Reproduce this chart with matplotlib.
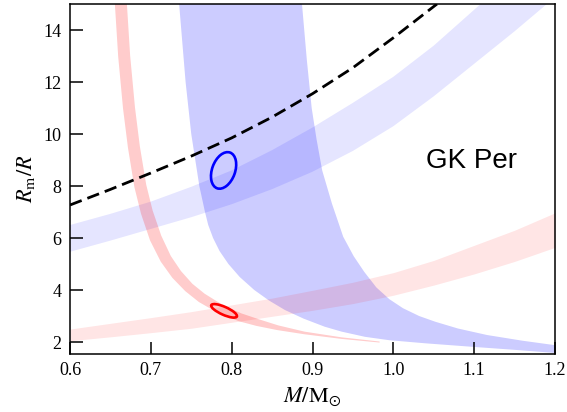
import matplotlib
matplotlib.use("Agg")
import matplotlib.pyplot as plt
from matplotlib.patches import Ellipse
from matplotlib.transforms import Affine2D

plt.rcParams['font.family'] = ['Liberation Serif', 'DejaVu Serif']
plt.rcParams['mathtext.fontset'] = 'stix'

# ---- data ----
# steep red band: lower-left edge and upper-right edge (top to bottom)
red_steep_lo_x = [0.6555, 0.6596, 0.6656, 0.6717, 0.6797, 0.6879, 0.6990, 0.7123, 0.7266, 0.7425, 0.7594, 0.7762, 0.7891, 0.8088, 0.8307, 0.8563, 0.8897, 0.9359, 0.983]
red_steep_lo_y = [15.0, 12.98, 10.98, 9.47, 7.95, 6.93, 5.91, 5.09, 4.47, 3.96, 3.54, 3.24, 3.05, 2.80, 2.62, 2.46, 2.30, 2.12, 1.98]
red_steep_hi_x = [0.6704, 0.6744, 0.6804, 0.6864, 0.6943, 0.7022, 0.7129, 0.7247, 0.7373, 0.7514, 0.7665, 0.7820, 0.7938, 0.8122, 0.8332, 0.8577, 0.8902, 0.9362, 0.983]
red_steep_hi_y = [15.0, 13.02, 11.02, 9.53, 8.05, 7.06, 6.09, 5.31, 4.73, 4.24, 3.86, 3.56, 3.35, 3.10, 2.88, 2.64, 2.40, 2.18, 2.02]

# shallow red band
red_shallow_x = [0.60, 0.65, 0.70, 0.75, 0.80, 0.85, 0.90, 0.95, 1.00, 1.05, 1.10, 1.15, 1.20]
red_shallow_lo = [2.05, 2.20, 2.36, 2.53, 2.76, 2.99, 3.22, 3.48, 3.80, 4.19, 4.62, 5.10, 5.64]
red_shallow_hi = [2.50, 2.72, 2.94, 3.17, 3.43, 3.69, 3.99, 4.30, 4.67, 5.14, 5.72, 6.30, 6.97]

# steep blue band
blue_steep_lo_x = [0.735, 0.743, 0.750, 0.755, 0.760, 0.767, 0.771, 0.777, 0.785, 0.796, 0.810, 0.828, 0.846, 0.866, 0.889, 0.915, 0.936, 0.965, 0.995, 1.040, 1.096, 1.150, 1.200]
blue_steep_lo_y = [15.0, 12.0, 10.0, 9.0, 8.0, 7.0, 6.5, 6.0, 5.5, 5.0, 4.5, 4.0, 3.6, 3.23, 2.9, 2.59, 2.4, 2.2, 2.07, 1.95, 1.82, 1.70, 1.58]
blue_steep_hi_x = [0.887, 0.893, 0.899, 0.905, 0.912, 0.924, 0.938, 0.951, 0.964, 0.979, 0.995, 1.012, 1.032, 1.052, 1.080, 1.116, 1.160, 1.200]
blue_steep_hi_y = [15.0, 12.85, 11.0, 9.8, 8.6, 7.33, 6.05, 5.3, 4.7, 4.1, 3.65, 3.3, 3.0, 2.78, 2.52, 2.27, 2.05, 1.88]

# shallow light-blue band
blue_shallow_lo_x = [0.60, 0.65, 0.70, 0.75, 0.80, 0.85, 0.90, 0.95, 1.00, 1.05, 1.10, 1.15, 1.19]
blue_shallow_lo_y = [5.47, 5.90, 6.35, 6.80, 7.30, 7.88, 8.55, 9.35, 10.3, 11.45, 12.7, 13.95, 15.0]
blue_shallow_hi_x = [0.60, 0.65, 0.70, 0.75, 0.80, 0.85, 0.90, 0.95, 1.00, 1.05, 1.108]
blue_shallow_hi_y = [6.50, 6.93, 7.40, 7.97, 8.60, 9.38, 10.25, 11.2, 12.2, 13.4, 15.0]

# dashed curve
dash_x = [0.60, 0.65, 0.70, 0.75, 0.80, 0.85, 0.90, 0.95, 1.00, 1.054]
dash_y = [7.27, 7.87, 8.50, 9.15, 9.85, 10.65, 11.55, 12.55, 13.70, 15.0]

# confidence ellipses: centre (M, Rm/R), semi-axes in screen px, tilt (deg)
blue_ell = dict(x=0.790, y=8.60, a=19.0, b=11.5, ang=70)
red_ell = dict(x=0.7906, y=3.20, a=14.0, b=4.0, ang=-24)

xticks = [0.6, 0.7, 0.8, 0.9, 1.0, 1.1, 1.2]
xticklabels = ["0.6", "0.7", "0.8", "0.9", "1.0", "1.1", "1.2"]
yticks = [2, 4, 6, 8, 10, 12, 14]

# ---- figure ----
fig = plt.figure(figsize=(5.67, 4.12), dpi=100)
ax = fig.add_axes([70/567, 1 - 354/412, (555-70)/567, (354-4)/412])
xlim = (0.6, 1.2)
ylim = (1.54, 15.0)
ax.set_xlim(*xlim)
ax.set_ylim(*ylim)

ax.fill(blue_shallow_lo_x + blue_shallow_hi_x[::-1],
        blue_shallow_lo_y + blue_shallow_hi_y[::-1],
        color='blue', alpha=0.1, lw=0)
ax.fill(blue_steep_lo_x + blue_steep_hi_x[::-1],
        blue_steep_lo_y + blue_steep_hi_y[::-1],
        color='blue', alpha=0.2, lw=0)
ax.fill_between(red_shallow_x, red_shallow_lo, red_shallow_hi,
                color='red', alpha=0.1, lw=0)
ax.fill(red_steep_lo_x + red_steep_hi_x[::-1],
        red_steep_lo_y + red_steep_hi_y[::-1],
        color='red', alpha=0.2, lw=0)

ax.plot(dash_x, dash_y, color='black', ls='--', lw=2.0, dashes=(4.5, 2.2))

# ellipses drawn in a coordinate system where x and y have equal pixel scale
bbox = ax.get_position()
wpx = bbox.width * 567
hpx = bbox.height * 412
px_per_x = wpx / (xlim[1] - xlim[0])
px_per_y = hpx / (ylim[1] - ylim[0])
K = px_per_x / px_per_y
tr = Affine2D().scale(1, K) + ax.transData
for e, c in ((blue_ell, 'blue'), (red_ell, 'red')):
    ax.add_patch(Ellipse((e['x'], e['y'] / K), 2 * e['a'] / px_per_x,
                         2 * e['b'] / px_per_x, angle=e['ang'],
                         transform=tr, fill=False, edgecolor=c, lw=1.9))

ax.text(1.041, 8.69, "GK Per", family=['Liberation Sans', 'DejaVu Sans'],
        fontsize=20, ha='left', va='baseline')

ax.set_xticks(xticks)
ax.set_xticklabels(xticklabels)
ax.set_yticks(yticks)
ax.tick_params(direction='in', length=9, width=1.1, labelsize=13, pad=6,
               top=False, right=False)
for s in ax.spines.values():
    s.set_linewidth(1.1)

ax.set_xlabel(r"$M/\mathrm{M}_{\odot}$", fontsize=16, labelpad=4)
ax.set_ylabel(r"$R_{\mathrm{m}}/R$", fontsize=16, labelpad=5)

fig.savefig("out.png", dpi=100)
